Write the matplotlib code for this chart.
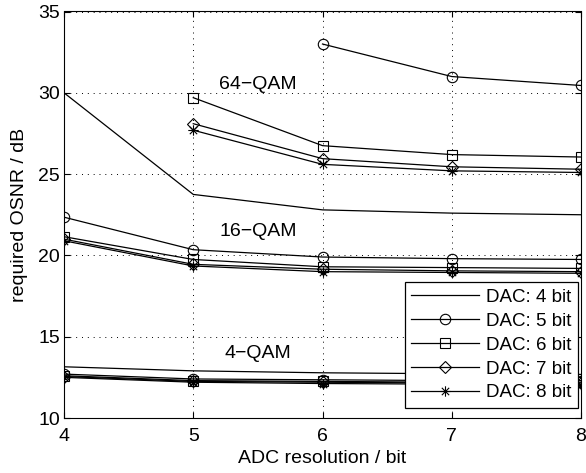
import numpy as np
import matplotlib
matplotlib.use("Agg")
import matplotlib.pyplot as plt
from matplotlib.path import Path

plt.rcParams['font.family'] = ['Liberation Sans', 'DejaVu Sans']

adc = [4, 5, 6, 7, 8]

# 4-QAM
qam4_dac4 = [13.15, 12.9, 12.78, 12.72, 12.68]
qam4_dac5 = [12.7, 12.4, 12.35, 12.3, 12.3]
qam4_dac6 = [12.6, 12.3, 12.25, 12.2, 12.2]
qam4_dac7 = [12.55, 12.25, 12.2, 12.15, 12.15]
qam4_dac8 = [12.5, 12.2, 12.12, 12.08, 12.05]

# 16-QAM
qam16_dac4 = [30.0, 23.75, 22.8, 22.6, 22.5]
qam16_dac5 = [22.35, 20.35, 19.9, 19.8, 19.75]
qam16_dac6 = [21.15, 19.75, 19.3, 19.25, 19.2]
qam16_dac7 = [21.0, 19.45, 19.15, 19.05, 19.0]
qam16_dac8 = [20.9, 19.35, 19.0, 18.95, 18.9]

# 64-QAM (missing points where no convergence)
qam64_adc5 = [6, 7, 8]
qam64_dac5 = [33.0, 31.0, 30.45]
qam64_adc6 = [5, 6, 7, 8]
qam64_dac6 = [29.7, 26.75, 26.2, 26.05]
qam64_dac7 = [28.1, 25.95, 25.45, 25.3]
qam64_dac8 = [27.7, 25.6, 25.2, 25.1]

labels = ['DAC: 4 bit', 'DAC: 5 bit', 'DAC: 6 bit', 'DAC: 7 bit', 'DAC: 8 bit']

# matlab style asterisk (+ and x together)
d = 0.7071
asterisk = Path([(-1, 0), (1, 0), (0, -1), (0, 1), (-d, -d), (d, d), (-d, d), (d, -d)],
                [Path.MOVETO, Path.LINETO] * 4)

markers = [None, 'o', 's', 'D', asterisk]
msizes = [0, 7.5, 7, 6, 7.5]

fig = plt.figure(figsize=(5.86, 4.73), dpi=100)
ax = fig.add_axes([64/586, 55/473, 517/586, 406.5/473])

style = dict(color='black', linewidth=0.9, markerfacecolor='none',
             markeredgecolor='black', markeredgewidth=0.8)

def draw(x, y, i, lab=None):
    ax.plot(x, y, marker=markers[i], markersize=msizes[i], label=lab, **style)

groups4 = [qam4_dac4, qam4_dac5, qam4_dac6, qam4_dac7, qam4_dac8]
groups16 = [qam16_dac4, qam16_dac5, qam16_dac6, qam16_dac7, qam16_dac8]
for i in range(5):
    draw(adc, groups16[i], i, labels[i])
    draw(adc, groups4[i], i)
draw(qam64_adc5, qam64_dac5, 1)
draw(qam64_adc6, qam64_dac6, 2)
draw(qam64_adc6, qam64_dac7, 3)
draw(qam64_adc6, qam64_dac8, 4)

ax.text(5.5, 30.5, '64\u2212QAM', ha='center', va='center', fontsize=14)
ax.text(5.5, 21.45, '16\u2212QAM', ha='center', va='center', fontsize=14)
ax.text(5.5, 13.95, '4\u2212QAM', ha='center', va='center', fontsize=14)

ax.set_xlim(4, 8)
ax.set_ylim(10, 35)
ax.set_xticks(adc)
ax.set_yticks([10, 15, 20, 25, 30, 35])
ax.tick_params(direction='in', top=True, right=True, labelsize=14, length=4, pad=3)
ax.tick_params(axis='x', pad=7)
ax.grid(True, linestyle=(0, (1, 5)), color='black', linewidth=0.7)
ax.set_xlabel('ADC resolution / bit', fontsize=14, labelpad=4)
ax.set_ylabel('required OSNR / dB', fontsize=14, labelpad=7)

leg = ax.legend(loc='lower right', bbox_to_anchor=(578/586, (473-408)/473),
                bbox_transform=fig.transFigure, borderaxespad=0,
                fontsize=13.5, handlelength=3.6,
                fancybox=False, framealpha=1, edgecolor='black',
                labelspacing=0.36, handletextpad=0.4, borderpad=0.35)
leg.get_frame().set_linewidth(0.9)

fig.savefig('out.png', dpi=100)
